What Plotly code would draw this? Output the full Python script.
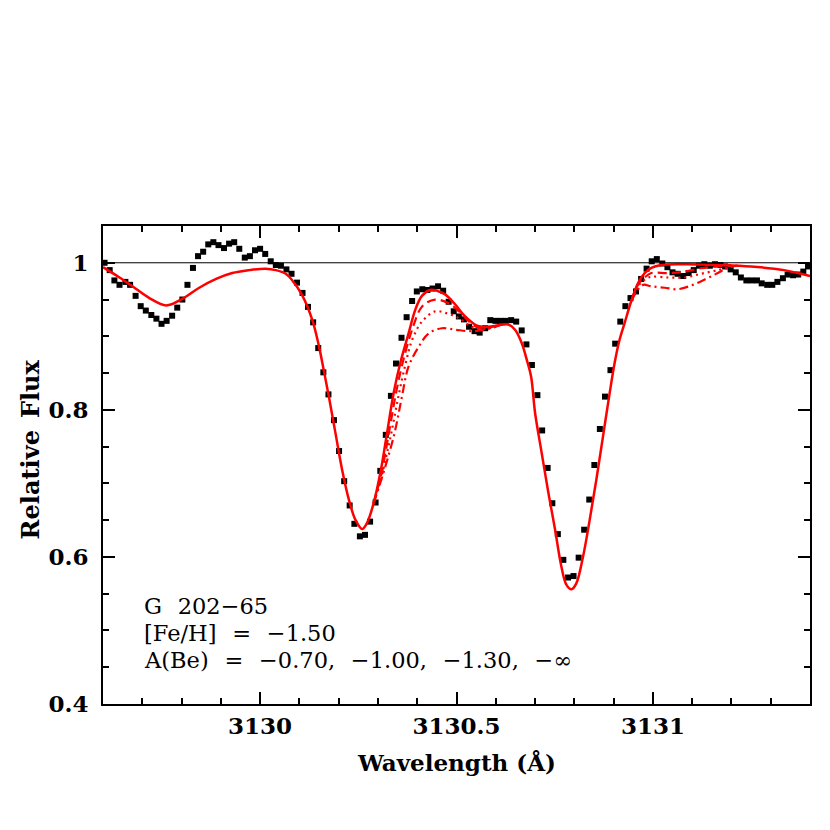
import plotly.graph_objects as go

# observed spectrum (G 202-65)
obs_wave = [3129.604, 3129.617, 3129.629, 3129.642, 3129.657, 3129.669, 3129.683, 3129.696,
            3129.709, 3129.723, 3129.736, 3129.749, 3129.762, 3129.776, 3129.789, 3129.802,
            3129.815, 3129.829, 3129.842, 3129.855, 3129.868, 3129.881, 3129.894, 3129.908,
            3129.921, 3129.934, 3129.947, 3129.961, 3129.974, 3129.987, 3130.000, 3130.013,
            3130.027, 3130.040, 3130.053, 3130.067, 3130.080, 3130.094, 3130.108, 3130.122,
            3130.135, 3130.148, 3130.161, 3130.174, 3130.188, 3130.201, 3130.214, 3130.228,
            3130.240, 3130.254, 3130.267, 3130.280, 3130.294, 3130.306, 3130.320, 3130.333,
            3130.346, 3130.360, 3130.373, 3130.387, 3130.399, 3130.413, 3130.426, 3130.439,
            3130.453, 3130.466, 3130.480, 3130.493, 3130.506, 3130.519, 3130.532, 3130.546,
            3130.559, 3130.573, 3130.586, 3130.599, 3130.612, 3130.625, 3130.639, 3130.652,
            3130.666, 3130.678, 3130.692, 3130.706, 3130.718, 3130.732, 3130.744, 3130.758,
            3130.772, 3130.784, 3130.798, 3130.811, 3130.825, 3130.838, 3130.851, 3130.865,
            3130.878, 3130.892, 3130.904, 3130.917, 3130.930, 3130.943, 3130.957, 3130.970,
            3130.984, 3130.997, 3131.010, 3131.024, 3131.037, 3131.050, 3131.063, 3131.077,
            3131.091, 3131.104, 3131.117, 3131.131, 3131.145, 3131.158, 3131.172, 3131.184,
            3131.198, 3131.211, 3131.224, 3131.238, 3131.251, 3131.265, 3131.277, 3131.291,
            3131.304, 3131.317, 3131.331, 3131.343, 3131.357, 3131.370, 3131.383, 3131.395]
obs_flux = [1.000, 0.990, 0.976, 0.970, 0.974, 0.970, 0.955, 0.941,
            0.935, 0.929, 0.924, 0.917, 0.921, 0.928, 0.939, 0.950,
            0.970, 0.993, 1.009, 1.015, 1.025, 1.028, 1.024, 1.020,
            1.026, 1.028, 1.019, 1.007, 1.009, 1.017, 1.019, 1.012,
            1.002, 0.997, 0.996, 0.991, 0.985, 0.973, 0.959, 0.940,
            0.919, 0.884, 0.851, 0.821, 0.786, 0.744, 0.703, 0.670,
            0.645, 0.628, 0.630, 0.648, 0.674, 0.717, 0.766, 0.819,
            0.863, 0.898, 0.926, 0.948, 0.961, 0.964, 0.963, 0.965,
            0.968, 0.962, 0.947, 0.934, 0.927, 0.923, 0.913, 0.907,
            0.905, 0.911, 0.922, 0.921, 0.921, 0.921, 0.922, 0.920,
            0.908, 0.889, 0.861, 0.820, 0.772, 0.721, 0.673, 0.631,
            0.596, 0.572, 0.574, 0.599, 0.637, 0.678, 0.725, 0.774,
            0.818, 0.854, 0.890, 0.920, 0.941, 0.952, 0.961, 0.978,
            0.992, 1.002, 1.005, 0.999, 0.994, 0.987, 0.985, 0.982,
            0.986, 0.990, 0.996, 0.998, 0.996, 0.998, 0.997, 0.995,
            0.991, 0.987, 0.980, 0.976, 0.976, 0.976, 0.972, 0.970,
            0.970, 0.974, 0.979, 0.984, 0.983, 0.984, 0.988, 0.995]

# synthetic spectrum, solid curve (full range)
syn_wave = [3129.600, 3129.642, 3129.675, 3129.718, 3129.761, 3129.802, 3129.845, 3129.888,
            3129.929, 3129.972, 3130.014, 3130.040, 3130.065, 3130.082, 3130.107, 3130.133,
            3130.150, 3130.162, 3130.175, 3130.192, 3130.209, 3130.226, 3130.243, 3130.260,
            3130.272, 3130.289, 3130.306, 3130.323, 3130.340, 3130.357, 3130.378, 3130.395,
            3130.412, 3130.433, 3130.450, 3130.471, 3130.497, 3130.522, 3130.554, 3130.581,
            3130.607, 3130.632, 3130.649, 3130.666, 3130.680, 3130.690, 3130.700, 3130.717,
            3130.734, 3130.751, 3130.767, 3130.780, 3130.793, 3130.805, 3130.822, 3130.839,
            3130.856, 3130.873, 3130.890, 3130.903, 3130.915, 3130.928, 3130.945, 3130.962,
            3130.979, 3130.996, 3131.021, 3131.080, 3131.165, 3131.249, 3131.334, 3131.400]
syn_flux = [0.994, 0.980, 0.968, 0.952, 0.942, 0.951, 0.966, 0.978,
            0.986, 0.990, 0.992, 0.990, 0.985, 0.976, 0.956, 0.922,
            0.886, 0.854, 0.818, 0.768, 0.718, 0.678, 0.650, 0.638,
            0.646, 0.673, 0.714, 0.768, 0.823, 0.864, 0.904, 0.936,
            0.955, 0.963, 0.962, 0.957, 0.943, 0.927, 0.914, 0.913,
            0.915, 0.916, 0.909, 0.891, 0.866, 0.845, 0.796, 0.741,
            0.687, 0.637, 0.587, 0.562, 0.556, 0.564, 0.600, 0.650,
            0.705, 0.764, 0.823, 0.865, 0.895, 0.918, 0.948, 0.972,
            0.986, 0.993, 0.997, 0.998, 0.997, 0.995, 0.990, 0.982]

# lower-Be synthetic curves, only where they split from the solid one
dash_wave = [3130.289, 3130.310, 3130.327, 3130.345, 3130.362, 3130.387, 3130.413, 3130.446,
             3130.480, 3130.506, 3130.532, 3130.555, 3130.581, 3130.607,
             None,
             3130.945, 3130.962, 3130.979, 3130.996, 3131.038, 3131.080, 3131.122, 3131.165, 3131.200]
dash_flux = [0.673, 0.716, 0.766, 0.820, 0.862, 0.909, 0.941, 0.950,
             0.945, 0.934, 0.920, 0.912, 0.912, 0.915,
             None,
             0.948, 0.970, 0.980, 0.986, 0.986, 0.988, 0.9925, 0.995, 0.997]

dot_wave = [3130.289, 3130.312, 3130.333, 3130.352, 3130.370, 3130.387, 3130.412, 3130.446,
            3130.471, 3130.505, 3130.538, 3130.565, 3130.590, 3130.607,
            None,
            3130.945, 3130.962, 3130.979, 3130.996, 3131.038, 3131.080, 3131.122, 3131.165, 3131.210]
dot_flux = [0.673, 0.716, 0.766, 0.818, 0.862, 0.895, 0.920, 0.934,
            0.932, 0.925, 0.913, 0.910, 0.912, 0.915,
            None,
            0.948, 0.968, 0.977, 0.981, 0.980, 0.980, 0.985, 0.990, 0.996]

dashdot_wave = [3130.289, 3130.315, 3130.342, 3130.360, 3130.378, 3130.404, 3130.429, 3130.463,
                3130.497, 3130.530, 3130.545, 3130.570, 3130.595, 3130.610,
                None,
                3130.945, 3130.960, 3130.975, 3130.996, 3131.030, 3131.063, 3131.097, 3131.131,
                3131.165, 3131.190, 3131.215]
dashdot_flux = [0.673, 0.716, 0.768, 0.815, 0.859, 0.886, 0.904, 0.911,
                0.909, 0.907, 0.907, 0.909, 0.912, 0.915,
                None,
                0.948, 0.962, 0.970, 0.968, 0.966, 0.964, 0.969, 0.977,
                0.986, 0.993, 0.996]

label_lines = ["G 202\u221265", "[Fe/H] = \u22121.50",
               "A(Be) = \u22120.70, \u22121.00, \u22121.30, \u2212\u221e"]
label_y = [0.533, 0.497, 0.460]

FONT = "DejaVu Serif"
RED = "#ff0000"

fig = go.Figure()

fig.add_hline(y=1.0, line=dict(color="black", width=1))

fig.add_trace(go.Scatter(x=obs_wave, y=obs_flux, mode="markers",
                         marker=dict(symbol="square", size=6, color="black"), name="G 202-65"))

fig.add_trace(go.Scatter(x=syn_wave, y=syn_flux, mode="lines", line_shape="spline",
                         line=dict(color=RED, width=2.5), name="synthetic"))
for xs, ys, dash in [(dash_wave, dash_flux, "9px,5px"),
                     (dot_wave, dot_flux, "2px,4px"),
                     (dashdot_wave, dashdot_flux, "9px,4px,2px,4px")]:
    fig.add_trace(go.Scatter(x=xs, y=ys, mode="lines", line_shape="spline",
                             line=dict(color=RED, width=2.2, dash=dash), connectgaps=False))

# wide spaces to mimic the roomy plotter font of the original
for txt, yy in zip(label_lines, label_y):
    fig.add_annotation(x=3129.70, y=yy, xref="x", yref="y",
                       text=txt.replace(" ", "\u2002\u2009"),
                       showarrow=False, xanchor="left", yanchor="middle",
                       font=dict(family=FONT, size=22.5, color="black"))

# axis titles as annotations so they sit where the reference has them
fig.add_annotation(x=0.5, y=-0.123, xref="paper", yref="paper", showarrow=False,
                   text="<b>Wavelength (\u00c5)</b>", xanchor="center", yanchor="middle",
                   font=dict(family=FONT, size=23, color="black"))
fig.add_annotation(x=-0.103, y=0.533, xref="paper", yref="paper", showarrow=False,
                   text="<b>Relative\u2002Flux</b>", textangle=-90, xanchor="center", yanchor="middle",
                   font=dict(family=FONT, size=24, color="black"))

axis_common = dict(showline=True, linecolor="black", linewidth=2, mirror="allticks",
                   ticks="inside", ticklen=12, tickwidth=1.5, tickcolor="black",
                   showgrid=False, zeroline=False, automargin=False,
                   tickfont=dict(family=FONT, size=23, color="black"))

fig.update_xaxes(range=[3129.6, 3131.4], tickvals=[3130, 3130.5, 3131],
                 ticktext=["<b>3130</b>", "<b>3130.5</b>", "<b>3131</b>"],
                 minor=dict(dtick=0.1, ticks="inside", ticklen=6, tickwidth=1.5, tickcolor="black"),
                 **axis_common)
fig.update_yaxes(range=[0.4, 1.05], tickvals=[0.4, 0.6, 0.8, 1.0],
                 ticktext=["<b>0.4</b>", "<b>0.6</b>", "<b>0.8</b>", "<b>1</b>"],
                 minor=dict(dtick=0.05, ticks="inside", ticklen=6, tickwidth=1.5, tickcolor="black"),
                 ticklabelstandoff=8,
                 **axis_common)

# page body adds 8px, so margins are shifted to put the frame at the reference spot
fig.update_layout(width=830, height=830, showlegend=False,
                  paper_bgcolor="white", plot_bgcolor="white",
                  margin=dict(l=95, r=28, t=218, b=134))

fig.write_html("out.html")
